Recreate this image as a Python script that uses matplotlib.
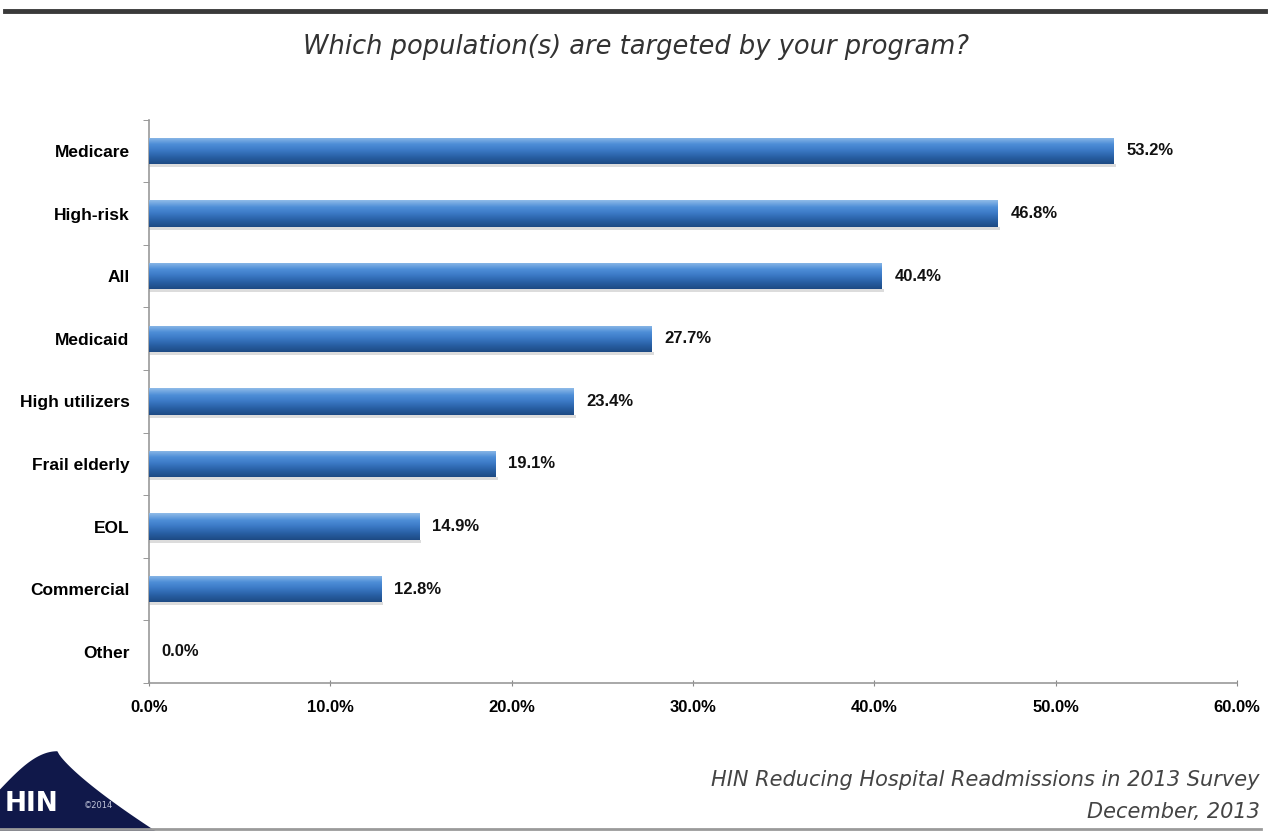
import matplotlib.pyplot as plt
import numpy as np
from matplotlib import patches
from matplotlib.lines import Line2D
from matplotlib.colors import LinearSegmentedColormap

# data
categories = ['Medicare', 'High-risk', 'All', 'Medicaid', 'High utilizers',
              'Frail elderly', 'EOL', 'Commercial', 'Other']
values = [53.2, 46.8, 40.4, 27.7, 23.4, 19.1, 14.9, 12.8, 0.0]
xticks = [0, 10, 20, 30, 40, 50, 60]

label_font = ['Liberation Sans Narrow', 'Liberation Sans', 'DejaVu Sans']

fig = plt.figure(figsize=(12.74, 8.31), dpi=100)
ax = fig.add_axes([0.117, 0.178, 0.854, 0.678])

y = np.arange(len(categories))
bh = 0.42
bars = ax.barh(y, values, height=bh, color='#3a78c2', zorder=2)

# gradient fill on every bar (light top, dark bottom)
grad = np.linspace(0, 1, 64).reshape(-1, 1)
cmap = LinearSegmentedColormap.from_list('barg', ['#8fbbe8', '#4f8fd8', '#3a78c4', '#285fa3', '#1d4a84'])
for b in bars:
    x0, y0 = b.get_x(), b.get_y()
    w, h = b.get_width(), b.get_height()
    if w <= 0:
        continue
    # soft shadow
    ax.add_patch(patches.Rectangle((x0, y0 + h), w + 0.12, 0.05, color='#dcdcdc', zorder=1, lw=0))
    im = ax.imshow(grad, cmap=cmap, aspect='auto', extent=(x0, x0 + w, y0 + h, y0), zorder=3)
    im.set_clip_path(b)

for yi, v in zip(y, values):
    ax.text(v + 0.7, yi, f'{v:.1f}%', va='center', ha='left', fontsize=12,
            fontweight='bold', family=label_font, color='#111111')

ax.set_xlim(0, 60)
ax.set_ylim(len(categories) - 0.5, -0.5)
ax.set_xticks(xticks)
ax.set_xticklabels([f'{t:.1f}%' for t in xticks], fontsize=12, fontweight='bold', family=label_font)
ax.set_yticks(y)
ax.set_yticklabels(categories, fontsize=12.5, fontweight='bold', family=label_font)
ax.set_yticks(np.arange(-0.5, len(categories), 1), minor=True)
ax.tick_params(axis='y', which='major', length=0, pad=14)
ax.tick_params(axis='y', which='minor', length=4, color='#888888', direction='out')
ax.tick_params(axis='x', which='major', length=5, color='#888888', direction='inout', pad=10)
for s in ['top', 'right']:
    ax.spines[s].set_visible(False)
ax.spines['left'].set_color('#999999')
ax.spines['bottom'].set_color('#999999')
ax.spines['left'].set_linewidth(1.2)
ax.spines['bottom'].set_linewidth(1.2)

# top rule
fig.add_artist(Line2D([0.004, 0.993], [0.987, 0.987], color='#3a3a3a', lw=3.5))
fig.text(0.499, 0.943, 'Which population(s) are targeted by your program?',
         ha='center', va='center', fontsize=18.5, style='italic', color='#333333')

# footer
fig.text(0.989, 0.061, 'HIN Reducing Hospital Readmissions in 2013 Survey',
         ha='right', va='center', fontsize=15, style='italic', color='#444444')
fig.text(0.989, 0.023, 'December, 2013',
         ha='right', va='center', fontsize=15, style='italic', color='#444444')
fig.add_artist(Line2D([0.0, 0.99], [0.003, 0.003], color='#9a9a9a', lw=2))

# logo
t = np.linspace(0, 1, 50)
lx = np.concatenate([[0.0], 0.0 + 0.045 * t, 0.045 + 0.077 * t, [0.122, 0.0]])
ly = np.concatenate([[0.0], 0.05 + 0.046 * np.sin(t * np.pi / 2), 0.096 - 0.096 * t ** 0.8, [0.0, 0.0]])
fig.add_artist(patches.Polygon(np.column_stack([lx, ly]), closed=True,
                               transform=fig.transFigure, color='#10184a', lw=0))
fig.text(0.004, 0.033, 'HIN', fontsize=19, fontweight='heavy', color='white',
         ha='left', va='center', family='DejaVu Sans')
fig.text(0.066, 0.031, '©2014', fontsize=6, color='#c0c4d8', ha='left', va='center')

plt.savefig('out.png', dpi=100)
